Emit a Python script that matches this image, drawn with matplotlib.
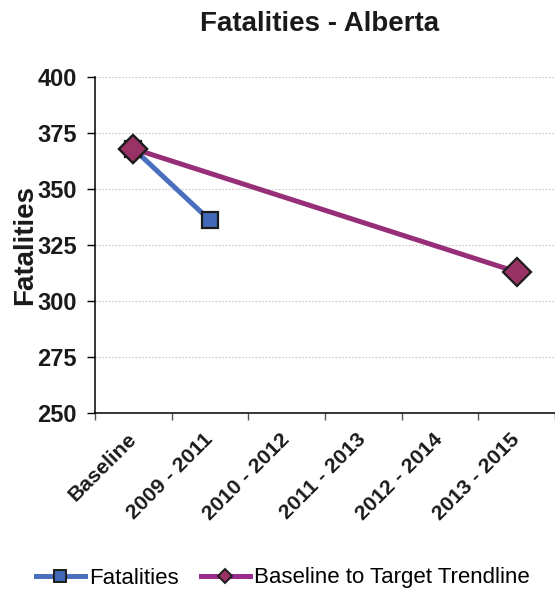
import matplotlib
matplotlib.use('Agg')
import matplotlib.pyplot as plt
from matplotlib.lines import Line2D
import numpy as np

plt.rcParams['font.family'] = ['Liberation Sans', 'DejaVu Sans']

# data
categories = ['Baseline', '2009 - 2011', '2010 - 2012', '2011 - 2013', '2012 - 2014', '2013 - 2015']
fatalities = [368, 336]
trend_idx = [0, 5]
trend_vals = [368, 313]
yticks = [250, 275, 300, 325, 350, 375, 400]

blue = '#4a6fbd'
blue_fill = '#4169b8'
plum = '#962f78'
plum_fill = '#993366'
edge = '#1c1c1c'

fig = plt.figure(figsize=(5.55, 5.93), dpi=100)
ax = fig.add_axes([95/555, 1-413/593, 1-95/555, (413-77)/593])

x = np.arange(len(categories))
ax.plot(trend_idx, trend_vals, color=plum, lw=3.6, marker='D', ms=14,
        mfc=plum_fill, mec=edge, mew=1.6, zorder=3)
ax.plot(x[:len(fatalities)], fatalities, color=blue, lw=3.6, marker='s', ms=12,
        mfc=blue_fill, mec=edge, mew=1.6, zorder=2)
# redraw baseline diamond on top like the reference
ax.plot(trend_idx[:1], trend_vals[:1], ls='none', marker='D', ms=14,
        mfc=plum_fill, mec=edge, mew=1.6, zorder=4)

ax.set_xlim(-0.5, len(categories) - 0.5)
ax.set_ylim(250, 400)
ax.set_yticks(yticks)
ax.set_yticklabels([str(v) for v in yticks], fontsize=17, fontweight='bold', color='#1a1a1a')
ax.set_xticks(x)
ax.set_xticklabels(categories, rotation=45, ha='right', va='center',
                   rotation_mode='anchor', fontsize=15.3, fontweight='bold', color='#1a1a1a')
ax.set_xticks(np.arange(-0.5, len(categories)), minor=True)
ax.tick_params(axis='x', which='major', length=0, pad=17)
ax.tick_params(axis='x', which='minor', length=5, width=1, color='#555555', direction='out')
ax.tick_params(axis='y', length=6, width=1, pad=7, direction='out')

ax.grid(axis='y', color='#c8c8c8', ls=(0, (1.5, 1.5)), lw=0.8)
ax.set_axisbelow(True)
for s in ['top', 'right']:
    ax.spines[s].set_visible(False)
for s in ['left', 'bottom']:
    ax.spines[s].set_linewidth(1.1)

ax.set_ylabel('Fatalities', fontsize=20, fontweight='bold', color='#1a1a1a')
ax.yaxis.set_label_coords(-0.123, 0.5)

fig.text(320/555, 1-24/593, 'Fatalities - Alberta', ha='center', va='center',
         fontsize=20, fontweight='bold', color='#1a1a1a')

handles = [
    Line2D([], [], color=blue, lw=3.6, marker='s', ms=8, mfc=blue_fill, mec=edge, mew=1.4),
    Line2D([], [], color='#9a2d8c', lw=3.6, marker='D', ms=7, mfc=plum_fill, mec=edge, mew=1.4),
]
fig.legend(handles, ['Fatalities', 'Baseline to Target Trendline'], loc='center',
           bbox_to_anchor=(283/555, 1-578/593), ncol=2, frameon=False, fontsize=16,
           handlelength=2.2, handletextpad=0.2, columnspacing=1.0)

fig.savefig('out.png', dpi=100)
